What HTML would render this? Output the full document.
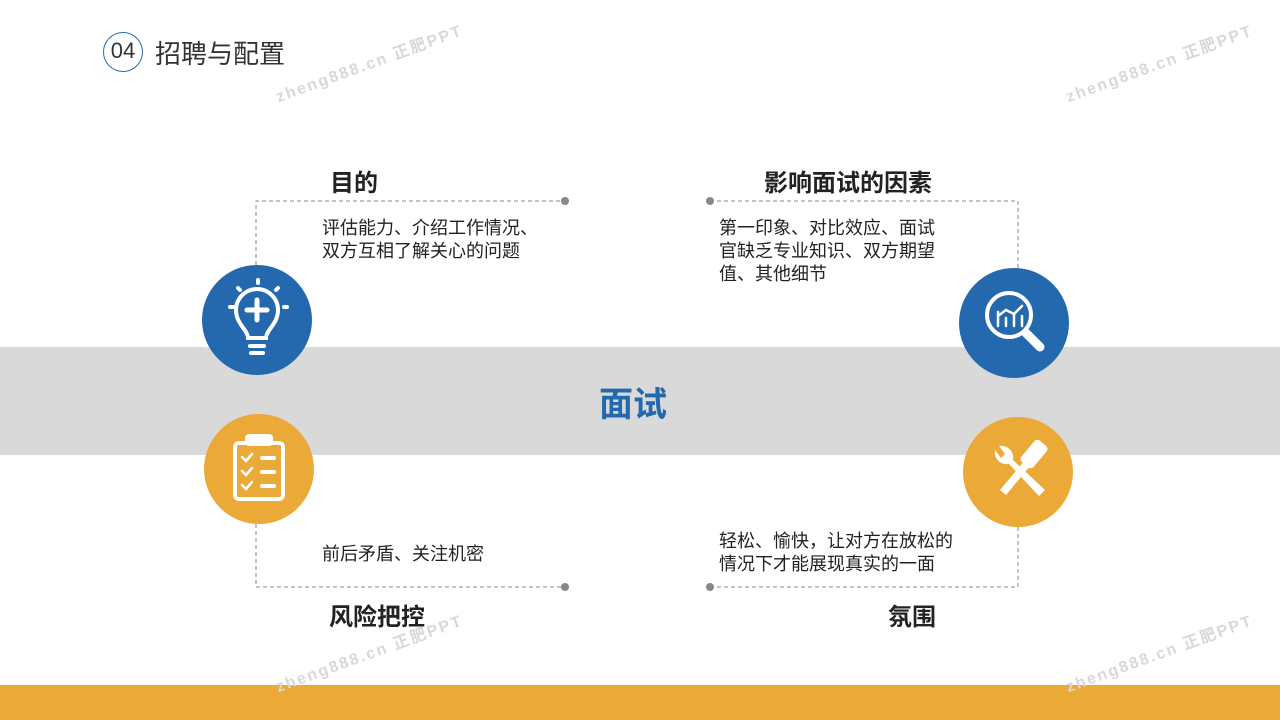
<!DOCTYPE html>
<html><head><meta charset="utf-8"><style>
body{margin:0;width:1280px;height:720px;position:relative;overflow:hidden;background:#fff;font-family:"Liberation Sans","Noto Sans CJK SC",sans-serif;color:#222}
.a{position:absolute}
.band{left:0;top:347px;width:1280px;height:108px;background:#d9d9d9}
.bar{left:0;top:685px;width:1280px;height:35px;background:#eba937}
.c{position:absolute;border-radius:50%}
.t{position:absolute;font-size:18px;line-height:23px;color:#222}
.h{position:absolute;font-size:24px;font-weight:bold;color:#222}
.wm{position:absolute;color:#d8d8d8;font-size:16px;font-weight:bold;letter-spacing:2px;transform:rotate(-20deg);white-space:nowrap}
</style></head><body>
<div class="a band"></div>
<div class="a bar"></div>
<div class="c" style="left:103px;top:32px;width:40px;height:40px;border:1.5px solid #2b6cb0;box-sizing:border-box"></div>
<div class="a" style="left:103px;top:38px;width:40px;text-align:center;font-size:22px;color:#333">04</div>
<div class="a" style="left:155px;top:34px;font-size:26px;color:#333">招聘与配置</div>
<div class="wm" style="left:270px;top:50px">zheng888.cn 正肥PPT</div>
<div class="wm" style="left:1060px;top:50px">zheng888.cn 正肥PPT</div>
<div class="wm" style="left:270px;top:640px">zheng888.cn 正肥PPT</div>
<div class="wm" style="left:1060px;top:640px">zheng888.cn 正肥PPT</div>
<svg class="a" style="left:0;top:0" width="1280" height="720">
<g stroke="#888" stroke-width="1" stroke-dasharray="4,3" fill="none">
<path d="M256 265V201H565"/><path d="M710 201H1018V268"/>
<path d="M256 524V587H565"/><path d="M710 587H1018V527"/>
</g>
<g fill="#888"><circle cx="565" cy="201" r="4"/><circle cx="710" cy="201" r="4"/><circle cx="565" cy="587" r="4"/><circle cx="710" cy="587" r="4"/></g>
<circle cx="257" cy="320" r="55" fill="#2469ae"/>
<circle cx="259" cy="469" r="55" fill="#eba937"/>
<circle cx="1014" cy="323" r="55" fill="#2469ae"/>
<circle cx="1018" cy="472" r="55" fill="#eba937"/>
<g stroke="#fff" stroke-width="4" fill="none" stroke-linecap="round">
<path d="M248 338c0-8-12-14-12-28a21 21 0 0 1 42 0c0 14-12 20-12 28z"/>
<path d="M257 300v20M247 310h20" stroke-width="5"/>
<path d="M250 346h14M251 353h12"/>
<path d="M258 280v3M238 288l2 2M278 288l-2 2M230 307h3M284 307h3"/>
<rect x="235" y="443" width="48" height="56" rx="4"/>
<path d="M262 458h12M262 472h12M262 486h12"/>
<path d="M242 457l4 4 6-7M242 471l4 4 6-7M242 485l4 4 6-7" stroke-width="2.5"/>
<circle cx="1009" cy="315" r="22"/>
<path d="M1026 333l14 14" stroke-width="9"/>
<path d="M998 326v-14M1006 326v-8M1014 326v-12M1022 326v-10M998 316l8-6 8 4 8-8" stroke-width="2.5"/>
</g>
<rect x="245" y="434" width="28" height="12" rx="4" fill="#fff"/>
<g fill="#fff">
<path d="M1000 490l30-36 6 5-30 36z"/><rect x="1026" y="440" width="16" height="28" rx="4" transform="rotate(40 1034 454)"/>
<path d="M995 450a12 12 0 0 0 14 14l30 32 6-6-32-30a12 12 0 0 0-14-14l6 8-4 4z"/>
</g>
</svg>
<div class="h" style="left:330px;top:163px">目的</div>
<div class="h" style="left:764px;top:163px">影响面试的因素</div>
<div class="h" style="left:329px;top:597px">风险把控</div>
<div class="h" style="left:888px;top:597px">氛围</div>
<div class="t" style="left:322px;top:217px">评估能力、介绍工作情况、<br>双方互相了解关心的问题</div>
<div class="t" style="left:719px;top:217px">第一印象、对比效应、面试<br>官缺乏专业知识、双方期望<br>值、其他细节</div>
<div class="t" style="left:322px;top:543px">前后矛盾、关注机密</div>
<div class="t" style="left:719px;top:530px">轻松、愉快，让对方在放松的<br>情况下才能展现真实的一面</div>
<div class="a" style="left:599px;top:377px;font-size:34px;font-weight:bold;color:#2469ae">面试</div>
</body></html>
